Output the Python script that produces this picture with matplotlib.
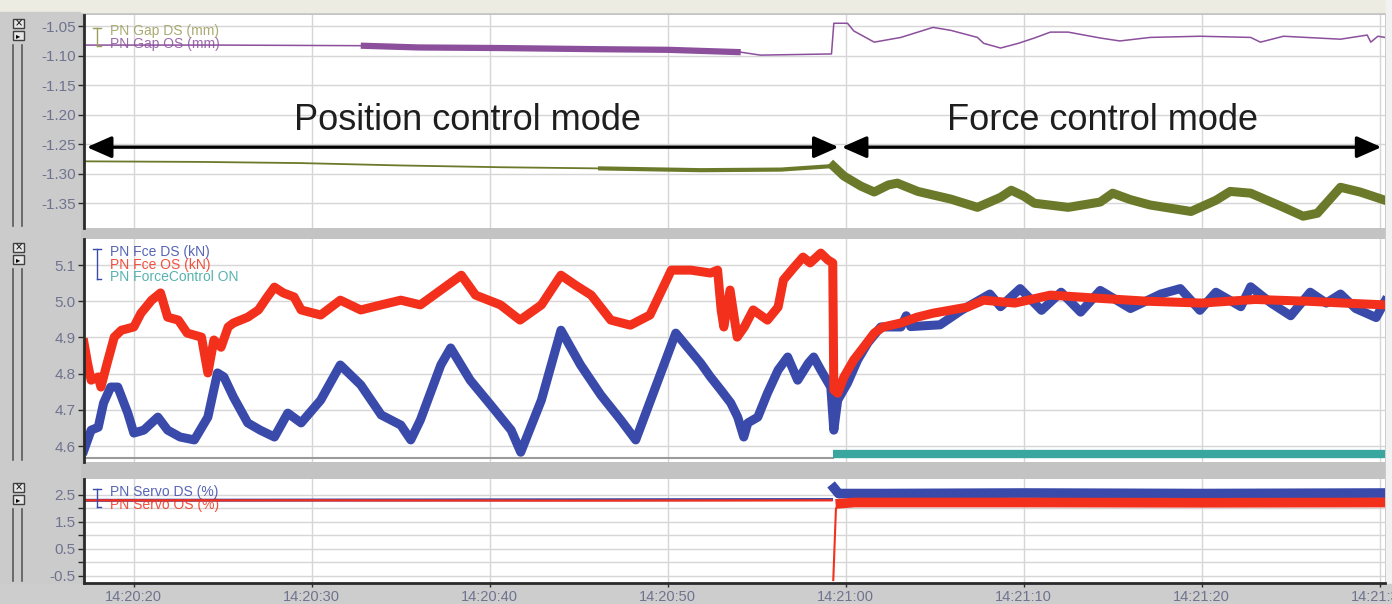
import numpy as np
import matplotlib.pyplot as plt
from matplotlib.lines import Line2D
from matplotlib.patches import Rectangle

# time axis in seconds after 14:20:00
t_left, t_right = 17.2, 90.3
tick_t = [20, 30, 40, 50, 60, 70, 80, 90]
tick_lbl = ['14:20:20', '14:20:30', '14:20:40', '14:20:50',
            '14:21:00', '14:21:10', '14:21:20', '14:21:30']

# --- top panel: gap (mm)
gap_os_t = [17.2, 25.0, 32.75, 36.0, 40.6, 46.2, 50.0, 54.1, 55.2, 59.2, 59.33,
            60.1, 60.45, 61.6, 63.1, 64.9, 65.9, 67.4, 67.75, 68.7, 69.7, 70.6,
            71.5, 72.5, 73.4, 74.3, 75.4, 77.1, 79.9, 82.75, 83.3, 84.6, 86.5,
            87.8, 89.3, 89.5, 89.9, 90.3]
gap_os_v = [-1.082, -1.082, -1.083, -1.086, -1.087, -1.089, -1.090, -1.094, -1.099,
            -1.097, -1.045, -1.045, -1.058, -1.077, -1.069, -1.052, -1.057, -1.069,
            -1.079, -1.087, -1.079, -1.070, -1.060, -1.060, -1.065, -1.070, -1.075,
            -1.069, -1.067, -1.069, -1.077, -1.067, -1.070, -1.072, -1.065, -1.077,
            -1.067, -1.069]

gap_ds_t = [17.2, 23.8, 29.4, 35.0, 40.6, 46.2, 51.85, 56.35, 59.3, 59.9, 60.85,
            61.6, 62.4, 62.9, 64.05, 65.9, 67.4, 68.7, 69.3, 70.0, 70.6, 72.5,
            74.3, 75.0, 76.0, 77.1, 79.4, 80.8, 81.6, 82.75, 84.6, 85.7, 86.5,
            87.8, 88.9, 90.3]
gap_ds_v = [-1.279, -1.280, -1.282, -1.286, -1.289, -1.291, -1.294, -1.293, -1.287,
            -1.304, -1.321, -1.331, -1.319, -1.316, -1.330, -1.343, -1.357, -1.340,
            -1.328, -1.338, -1.350, -1.357, -1.348, -1.333, -1.344, -1.353, -1.364,
            -1.345, -1.330, -1.333, -1.357, -1.372, -1.367, -1.323, -1.331, -1.345]

# --- middle panel: force (kN)
fce_os_t = [17.2, 17.4, 17.6, 18.0, 18.15, 18.5, 18.9, 19.3, 20.0, 20.4, 21.0, 21.5,
            21.9, 22.5, 23.0, 23.8, 24.16, 24.5, 24.9, 25.3, 25.6, 26.4, 27.0, 27.5,
            27.9, 28.4, 29.0, 29.4, 30.5, 31.6, 32.75, 33.9, 35.0, 36.1, 37.25, 38.4,
            39.2, 40.6, 41.7, 42.9, 44.0, 44.8, 45.7, 46.8, 47.9, 49.0, 50.2, 51.3,
            52.4, 52.8, 53.0, 53.15, 53.5, 53.9, 54.3, 54.8, 55.6, 56.2, 56.5, 57.1,
            57.6, 58.0, 58.6, 59.0, 59.27, 59.33, 59.55, 59.9, 60.45, 61.0, 61.6,
            62.1, 63.1, 64.0, 64.9, 66.85, 67.75, 69.5, 71.5, 74.3, 77.0, 80.0, 83.0,
            86.0, 88.0, 90.3]
fce_os_v = [4.885, 4.829, 4.782, 4.791, 4.763, 4.829, 4.901, 4.920, 4.929, 4.967,
            5.003, 5.023, 4.956, 4.948, 4.912, 4.901, 4.802, 4.893, 4.873, 4.929,
            4.940, 4.956, 4.976, 5.012, 5.039, 5.023, 5.012, 4.976, 4.962, 5.003,
            4.976, 4.990, 5.003, 4.990, 5.031, 5.072, 5.017, 4.990, 4.948, 4.990,
            5.072, 5.045, 5.017, 4.948, 4.934, 4.962, 5.086, 5.086, 5.078, 5.086,
            4.976, 4.929, 5.031, 4.901, 4.929, 4.976, 4.948, 4.984, 5.059, 5.094,
            5.122, 5.106, 5.133, 5.114, 5.106, 4.755, 4.746, 4.791, 4.838, 4.873,
            4.912, 4.929, 4.940, 4.956, 4.967, 4.984, 5.003, 4.995, 5.017, 5.008,
            5.000, 4.995, 5.005, 5.000, 4.995, 4.990]

fce_ds_t = [17.2, 17.6, 18.0, 18.3, 18.7, 19.1, 19.66, 20.0, 20.56, 21.35, 21.9,
            22.6, 23.4, 24.16, 24.7, 25.06, 25.6, 26.4, 27.1, 27.9, 28.65, 29.4,
            30.5, 31.6, 32.75, 33.9, 35.0, 35.56, 36.1, 37.25, 37.8, 38.9, 40.06,
            41.2, 41.74, 42.9, 44.0, 45.1, 46.24, 47.36, 48.2, 49.04, 50.45, 51.85,
            52.4, 52.98, 53.54, 53.93, 54.27, 54.5, 55.06, 55.6, 56.2, 56.74, 57.3,
            57.9, 58.2, 58.6, 59.16, 59.33, 59.55, 60.1, 60.67, 61.24, 61.97, 63.1,
            63.4, 63.65, 65.3, 66.5, 68.1, 68.7, 69.8, 71.0, 72.1, 73.2, 74.3, 76.0,
            77.7, 78.8, 79.9, 80.8, 82.2, 82.75, 83.9, 85.0, 86.1, 87.0, 87.8, 88.65,
            89.8, 90.3]
fce_ds_v = [4.589, 4.644, 4.652, 4.719, 4.763, 4.763, 4.691, 4.636, 4.644, 4.680,
            4.644, 4.625, 4.617, 4.680, 4.802, 4.791, 4.735, 4.664, 4.644, 4.625,
            4.691, 4.664, 4.727, 4.824, 4.769, 4.686, 4.658, 4.617, 4.672, 4.824,
            4.871, 4.782, 4.713, 4.644, 4.583, 4.727, 4.920, 4.824, 4.741, 4.672,
            4.617, 4.727, 4.912, 4.829, 4.791, 4.755, 4.719, 4.680, 4.625, 4.664,
            4.680, 4.746, 4.810, 4.846, 4.782, 4.829, 4.846, 4.810, 4.763, 4.644,
            4.727, 4.774, 4.838, 4.885, 4.929, 4.929, 4.960, 4.930, 4.935, 4.975,
            5.020, 4.985, 5.035, 4.975, 5.025, 4.970, 5.030, 4.980, 5.020, 5.035,
            4.975, 5.025, 4.985, 5.040, 4.995, 4.960, 5.025, 4.995, 5.020, 4.980,
            4.955, 5.000]

# force control on/off (drawn at the panel floor)
fc_t = [17.2, 59.3, 90.3]
fc_off_level = 4.567
fc_on_level = 4.578

# --- bottom panel: servo (%)
servo_ds_t = [17.2, 30.0, 45.0, 59.2, 59.35, 59.6, 62.0, 70.0, 80.0, 90.3]
servo_ds_v = [2.30, 2.31, 2.32, 2.33, 2.75, 2.55, 2.55, 2.57, 2.55, 2.57]
servo_os_t = [17.2, 30.0, 45.0, 59.2, 59.3, 59.45, 59.7, 60.5, 70.0, 80.0, 90.3]
servo_os_v = [2.30, 2.30, 2.29, 2.30, -0.65, 2.00, 2.18, 2.22, 2.22, 2.21, 2.22]

# colours
c_green = '#6b7a2a'
c_purple = '#8b4f9c'
c_red = '#f2301c'
c_blue = '#3a4aaa'
c_teal = '#3aa6a0'
c_tick = '#70738f'

W, H = 1392, 604
fig = plt.figure(figsize=(W / 100, H / 100), dpi=100)
fig.patch.set_facecolor('#c3c3c3')
plt.rcParams['font.family'] = ['Liberation Sans', 'DejaVu Sans']

# frame decorations
fig.add_artist(Rectangle((0, 1 - 12 / H), 1, 12 / H, transform=fig.transFigure,
                         color='#ecece2', zorder=0))
fig.add_artist(Rectangle((0, 0), 80 / W, 1 - 12 / H, transform=fig.transFigure,
                         color='#cbcbcb', zorder=0))
fig.add_artist(Rectangle((1386 / W, 0), 6 / W, 1, transform=fig.transFigure,
                         color='#f2f2f2', zorder=0))
fig.add_artist(Rectangle((0, 0), 1, 20 / H, transform=fig.transFigure,
                         color='#cdcdcd', zorder=0))


def box(y0, y1):
    return [84 / W, 1 - y1 / H, (1385 - 84) / W, (y1 - y0) / H]


panels = [(15, 228), (239, 462), (479, 583)]
ax1 = fig.add_axes(box(*panels[0]))
ax2 = fig.add_axes(box(*panels[1]))
ax3 = fig.add_axes(box(*panels[2]))

# left strip: icons and scroll bars
for (y0, y1) in panels:
    for yy in (y0 + 4, y0 + 16):
        fig.add_artist(Rectangle((13 / W, 1 - (yy + 9) / H), 11 / W, 9 / H,
                                 transform=fig.transFigure, facecolor='#e6e6e6',
                                 edgecolor='#404040', lw=1))
    fig.text(18.5 / W, 1 - (y0 + 8.5) / H, '×', fontsize=7, ha='center', va='center',
             color='black', family='DejaVu Sans')
    fig.text(18.5 / W, 1 - (y0 + 20.5) / H, '▸', fontsize=6, ha='center', va='center',
             color='black', family='DejaVu Sans')
    for xx in (13, 22):
        fig.add_artist(Line2D([xx / W, xx / W], [1 - (y0 + 30) / H, 1 - (y1 - 2) / H],
                              transform=fig.transFigure, color='#5a5a5a', lw=1.2))

for ax in (ax1, ax2, ax3):
    ax.set_facecolor('white')
    ax.set_xlim(t_left, t_right)
    ax.set_xticks(tick_t)
    ax.grid(True, color='#d6d6d6', lw=1)
    ax.set_axisbelow(True)
    for s in ('top', 'right', 'bottom'):
        ax.spines[s].set_visible(False)
    ax.spines['left'].set_color('#2a2a2a')
    ax.spines['left'].set_linewidth(2)
    ax.tick_params(axis='y', direction='out', length=4, width=1, colors='#2a2a2a',
                   labelcolor=c_tick, labelsize=11, pad=2)
    ax.tick_params(axis='x', length=0, labelbottom=False)

ax3.spines['bottom'].set_visible(True)
ax3.spines['bottom'].set_color('#2a2a2a')
ax3.spines['bottom'].set_linewidth(2)
ax3.tick_params(axis='x', direction='out', length=3, width=1, colors='#2a2a2a',
                labelbottom=True, labelcolor=c_tick, labelsize=10.5, pad=2)
ax3.set_xticklabels(tick_lbl)

# top panel
gos_t = np.array(gap_os_t)
gos_v = np.array(gap_os_v)
gds_t = np.array(gap_ds_t)
gds_v = np.array(gap_ds_v)
ax1.plot(gos_t, gos_v, color=c_purple, lw=1.1)
m = (gos_t >= 32.7) & (gos_t <= 54.2)
ax1.plot(gos_t[m], gos_v[m], color=c_purple, lw=4.5, solid_capstyle='butt')
ax1.plot(gds_t, gds_v, color=c_green, lw=1.3)
m = (gds_t >= 46.0) & (gds_t <= 59.4)
ax1.plot(gds_t[m], gds_v[m], color=c_green, lw=3)
m = gds_t >= 59.3
ax1.plot(gds_t[m], gds_v[m], color=c_green, lw=6.5)
ax1.set_ylim(-1.392, -1.031)
ax1.set_yticks([-1.05, -1.10, -1.15, -1.20, -1.25, -1.30, -1.35])
ax1.set_yticklabels(['-1.05', '-1.10', '-1.15', '-1.20', '-1.25', '-1.30', '-1.35'])

arrow_y = -1.255
ax1.annotate('', xy=(59.6, arrow_y), xytext=(17.36, arrow_y),
             arrowprops=dict(arrowstyle='<|-|>,head_length=0.75,head_width=0.33',
                             mutation_scale=20, lw=2.4, color='black',
                             shrinkA=0, shrinkB=0))
ax1.annotate('', xy=(90.1, arrow_y), xytext=(59.78, arrow_y),
             arrowprops=dict(arrowstyle='<|-|>,head_length=0.75,head_width=0.33',
                             mutation_scale=20, lw=2.4, color='black',
                             shrinkA=0, shrinkB=0))
ax1.text(38.76, -1.209, 'Position control mode', fontsize=26, ha='center',
         va='center', color='#1e1e1e')
ax1.text(74.4, -1.209, 'Force control mode', fontsize=26, ha='center',
         va='center', color='#1e1e1e')

# middle panel
ax2.plot(fce_ds_t, fce_ds_v, color=c_blue, lw=6.5)
ax2.plot(fce_os_t, fce_os_v, color=c_red, lw=6.5)
ax2.plot(fc_t[:2], [fc_off_level, fc_off_level], color='#9a9a9a', lw=1.5)
ax2.plot(fc_t[1:], [fc_on_level, fc_on_level], color=c_teal, lw=6,
         solid_capstyle='butt')
ax2.set_ylim(4.556, 5.172)
ax2.set_yticks([4.6, 4.7, 4.8, 4.9, 5.0, 5.1])
ax2.set_yticklabels(['4.6', '4.7', '4.8', '4.9', '5.0', '5.1'])

# bottom panel
sds_t = np.array(servo_ds_t)
sds_v = np.array(servo_ds_v)
sos_t = np.array(servo_os_t)
sos_v = np.array(servo_os_v)
m = sds_t <= 59.2
ax3.plot(sds_t[m], sds_v[m], color=c_blue, lw=2.2)
ax3.plot(sds_t[~m], sds_v[~m], color=c_blue, lw=7)
m = sos_t <= 59.2
ax3.plot(sos_t[m], sos_v[m], color=c_red, lw=1.6)
ax3.plot(sos_t[~m], sos_v[~m], color=c_red, lw=1.5)
m = sos_t >= 59.7
ax3.plot(sos_t[m], sos_v[m], color=c_red, lw=7)
ax3.set_ylim(-0.76, 3.09)
ax3.set_yticks([-0.5, 0.0, 0.5, 1.0, 1.5, 2.0, 2.5])
ax3.set_yticklabels(['-0.5', '', '0.5', '', '1.5', '', '2.5'])

# legend-like labels
def legend(y_list, names, colors, bracket_color):
    ytop = y_list[0]
    ybot = y_list[-1]
    fig.add_artist(Line2D([97 / W, 97 / W], [1 - (ytop - 3) / H, 1 - (ybot + 2) / H],
                          transform=fig.transFigure, color=bracket_color, lw=1))
    fig.add_artist(Line2D([93 / W, 101 / W], [1 - (ytop - 3) / H, 1 - (ytop - 3) / H],
                          transform=fig.transFigure, color=bracket_color, lw=1))
    fig.add_artist(Line2D([97 / W, 101 / W], [1 - (ybot + 2) / H, 1 - (ybot + 2) / H],
                          transform=fig.transFigure, color=bracket_color, lw=1))
    for yy, nm, cc in zip(y_list, names, colors):
        fig.text(110 / W, 1 - yy / H, nm, fontsize=10, color=cc, va='center',
                 ha='left', alpha=0.85)


legend([31, 44], ['PN Gap DS (mm)', 'PN Gap OS (mm)'], ['#9c9c5c', c_purple], '#9c9c5c')
legend([252, 265, 277], ['PN Fce DS (kN)', 'PN Fce OS (kN)', 'PN ForceControl ON'],
       [c_blue, c_red, c_teal], c_blue)
legend([492, 505], ['PN Servo DS (%)', 'PN Servo OS (%)'], [c_blue, c_red], c_blue)

plt.savefig('out.png', dpi=100, facecolor=fig.get_facecolor())
